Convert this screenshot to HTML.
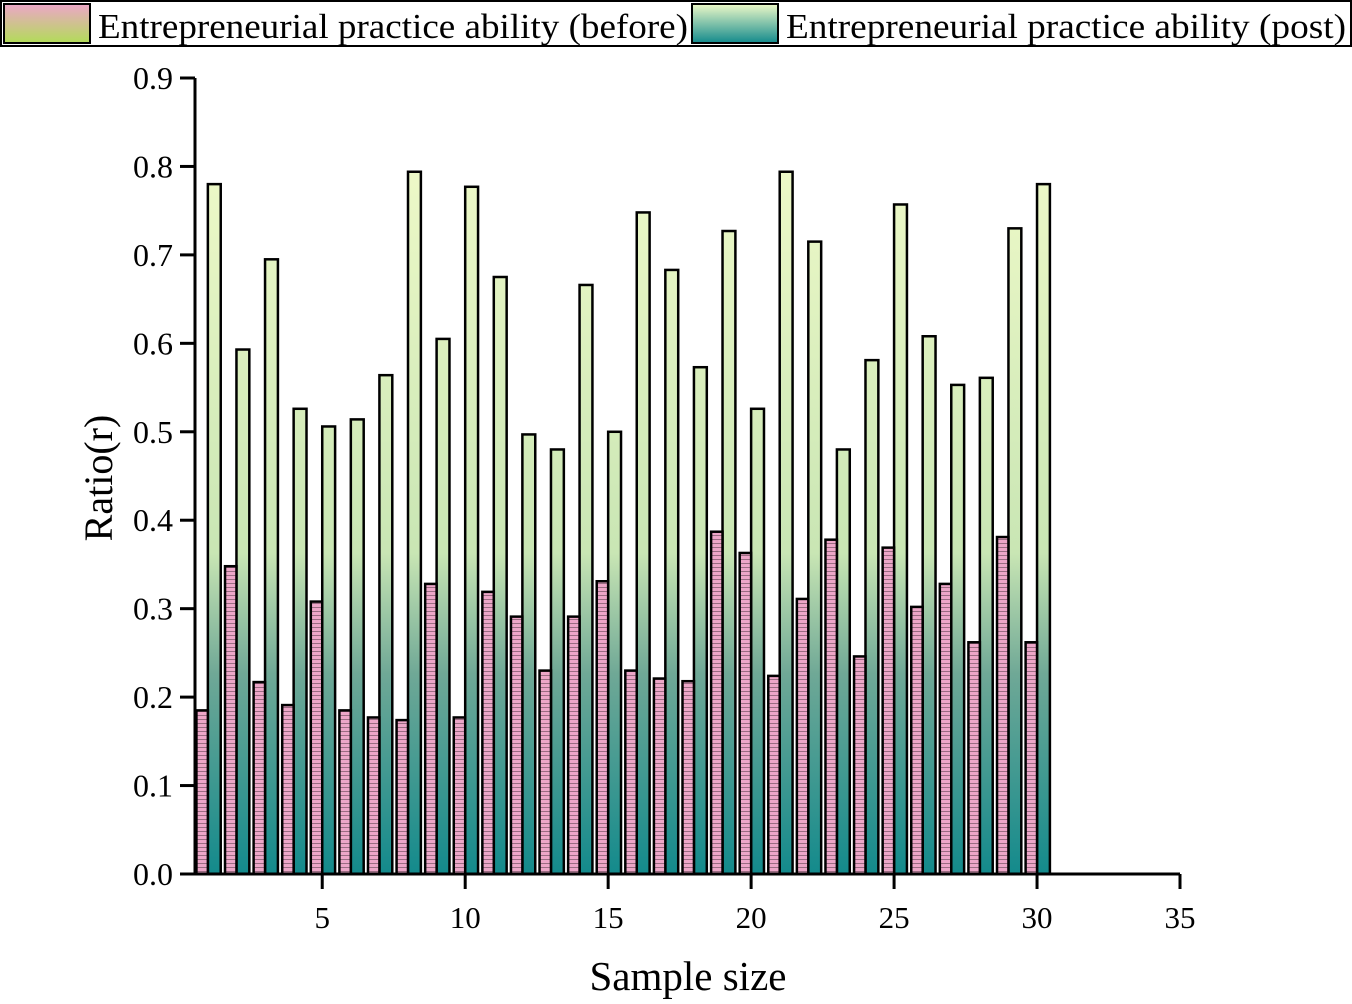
<!DOCTYPE html>
<html><head><meta charset="utf-8"><style>
body{margin:0;background:#fff}
svg text{font-family:"Liberation Serif",serif;fill:#000}
</style></head><body>
<svg width="1352" height="999" viewBox="0 0 1352 999">
<defs>
<linearGradient id="gpost" gradientUnits="userSpaceOnUse" x1="0" y1="160" x2="0" y2="874">
<stop offset="0" stop-color="#eef9c8"/><stop offset="0.55" stop-color="#c9e6b4"/><stop offset="0.72" stop-color="#6fa896"/><stop offset="1" stop-color="#138a8c"/>
</linearGradient>
<linearGradient id="gpre" gradientUnits="userSpaceOnUse" x1="0" y1="530" x2="0" y2="874">
<stop offset="0" stop-color="#eda6c8"/><stop offset="0.45" stop-color="#e8c0b0"/><stop offset="1" stop-color="#b2dc58"/>
</linearGradient>
<pattern id="ppre" width="4" height="4" patternUnits="userSpaceOnUse"><rect width="4" height="4" fill="url(#gpre)"/><rect y="3" width="4" height="1" fill="#000" opacity="0.35"/></pattern>
<linearGradient id="lgpre" x1="0" y1="0" x2="0" y2="1"><stop offset="0" stop-color="#eda6c8"/><stop offset="1" stop-color="#b2dc58"/></linearGradient>
<linearGradient id="lgpost" x1="0" y1="0" x2="0" y2="1"><stop offset="0" stop-color="#eef9c8"/><stop offset="1" stop-color="#138a8c"/></linearGradient>
</defs>
<g>
<rect x="1" y="1" width="1350" height="45" fill="#fff" stroke="#000" stroke-width="2"/>
<rect x="4" y="4" width="86" height="39" fill="url(#lgpre)" stroke="#000" stroke-width="2"/>
<text x="98" y="38" font-size="35" textLength="590" lengthAdjust="spacingAndGlyphs">Entrepreneurial practice ability (before)</text>
<rect x="692" y="4" width="86" height="39" fill="url(#lgpost)" stroke="#000" stroke-width="2"/>
<text x="786" y="38" font-size="35" textLength="560" lengthAdjust="spacingAndGlyphs">Entrepreneurial practice ability (post)</text>
</g>
<g id="bars"></g>
<g id="axes"></g>
<text x="112" y="478" font-size="40" text-anchor="middle" transform="rotate(-90 112 478)">Ratio(r)</text>
<text x="688" y="990" font-size="41" text-anchor="middle">Sample size</text>
</svg>
<script>
const samples=[1,2,3,4,5,6,7,8,9,10,11,12,13,14,15,16,17,18,19,20,21,22,23,24,25,26,27,28,29,30];
const beforeVals=[.185,.348,.217,.191,.308,.185,.177,.174,.328,.177,.319,.291,.230,.291,.331,.230,.221,.218,.387,.363,.224,.311,.378,.246,.369,.302,.328,.262,.381,.262];
const postVals=[.780,.593,.695,.526,.506,.514,.564,.794,.605,.777,.675,.497,.480,.666,.500,.748,.683,.573,.727,.526,.794,.715,.480,.581,.757,.608,.553,.561,.730,.780];
const xTicks=[5,10,15,20,25,30,35];
const yTicks=[0,0.1,0.2,0.3,0.4,0.5,0.6,0.7,0.8,0.9];
const NS='http://www.w3.org/2000/svg';
const xMin=0.55,xMax=35,px0=195,px1=1180,py0=874,py1=78;
const X=v=>px0+(v-xMin)/(xMax-xMin)*(px1-px0);
const Y=v=>py0-v/0.9*(py0-py1);
function mk(tag,attrs,parent){const e=document.createElementNS(NS,tag);for(const k in attrs)e.setAttribute(k,attrs[k]);parent.appendChild(e);return e;}
const bars=document.getElementById('bars');
samples.forEach((s,i)=>{
 const p=mk('rect',{x:X(s),y:Y(postVals[i]),width:X(s+0.45)-X(s),height:py0-Y(postVals[i]),fill:'url(#gpost)',stroke:'#000','stroke-width':2.5},bars);
 
 
 const b=mk('rect',{x:X(s-0.4),y:Y(beforeVals[i]),width:X(s)-X(s-0.4),height:py0-Y(beforeVals[i]),fill:'url(#ppre)',stroke:'#000','stroke-width':2.5},bars);
 
 
});
const ax=document.getElementById('axes');
const ya=mk('line',{x1:px0,y1:py0,x2:px0,y2:py1,stroke:'#000','stroke-width':3},ax);


const xa=mk('line',{x1:px0,y1:py0,x2:px1,y2:py0,stroke:'#000','stroke-width':3},ax);


yTicks.forEach(v=>{
 mk('line',{x1:px0-15,y1:Y(v),x2:px0,y2:Y(v),stroke:'#000','stroke-width':3},ax);
 const t=mk('text',{x:px0-22,y:Y(v)+11,'font-size':32,'text-anchor':'end'},ax);
 t.textContent=v.toFixed(1);
 
 
});
xTicks.forEach(v=>{
 mk('line',{x1:X(v),y1:py0,x2:X(v),y2:py0+15,stroke:'#000','stroke-width':3},ax);
 const t=mk('text',{x:X(v),y:py0+54,'font-size':31,'text-anchor':'middle'},ax);
 t.textContent=v;
 
 
});
</script>
</body></html>
